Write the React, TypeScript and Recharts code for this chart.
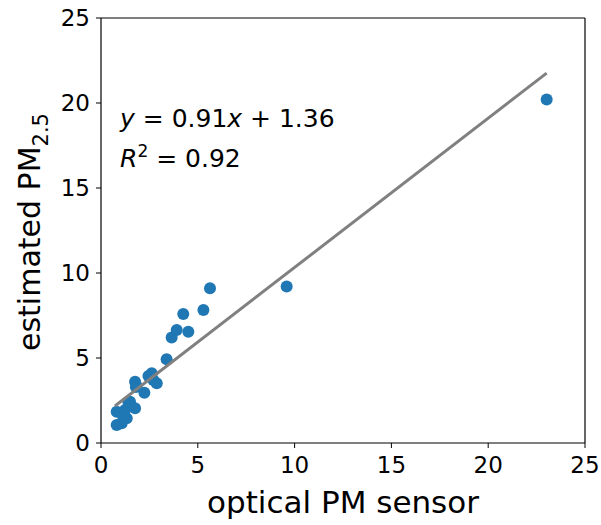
import { ReferenceLine, Scatter, ScatterChart, XAxis, YAxis } from 'recharts';

// optical PM sensor readings vs estimated PM2.5
const sensorValues = [
  0.81, 0.81, 1.07, 1.15, 1.24, 1.33, 1.41, 1.5, 1.76, 1.76, 1.84, 1.8, 2.24, 2.45, 2.62, 2.7, 2.88,
  3.39, 3.65, 3.91, 4.25, 4.51, 5.29, 5.63, 9.59, 23.02,
];
const estimatedValues = [
  1.06, 1.84, 1.16, 1.55, 1.94, 1.45, 2.43, 2.43, 2.04, 3.61, 3.35, 3.3, 2.96, 3.94, 4.1, 3.7, 3.51,
  4.92, 6.2, 6.65, 7.59, 6.55, 7.82, 9.1, 9.2, 20.2,
];
// end points of the fitted line as drawn
const fitX = [0.72, 23.02];
const fitY = [2.18, 21.76];
const ticks = [0, 5, 10, 15, 20, 25];

const points = sensorValues.map((x, i) => ({ x, y: estimatedValues[i] }));
const fitLine = fitX.map((x, i) => ({ x, y: fitY[i] }));

const FONT = '"DejaVu Sans", sans-serif';
const xTickStyle = { fontSize: 23, fill: '#000', fontFamily: FONT, dy: 7 };
const yTickStyle = { fontSize: 23, fill: '#000', fontFamily: FONT, dx: -4 };

export default function App() {
  return (
    <div style={{ position: 'absolute', left: 0, top: 0, width: 601, height: 525, background: '#fff' }}>
      <ScatterChart width={601} height={525} margin={{ top: 18, right: 16, bottom: 42, left: 41 }}>
        <XAxis
          type="number"
          dataKey="x"
          domain={[0, 25]}
          ticks={ticks}
          tick={xTickStyle}
          tickSize={5}
          height={40}
          stroke="#000"
          axisLine={{ stroke: '#000', strokeWidth: 1.2 }}
          tickLine={{ stroke: '#000' }}
        />
        <YAxis
          type="number"
          dataKey="y"
          domain={[0, 25]}
          ticks={ticks}
          tick={yTickStyle}
          tickSize={5}
          width={60}
          stroke="#000"
          axisLine={{ stroke: '#000', strokeWidth: 1.2 }}
          tickLine={{ stroke: '#000' }}
        />
        <ReferenceLine y={25} stroke="#000" strokeWidth={1.2} />
        <ReferenceLine x={25} stroke="#000" strokeWidth={1.2} />
        <Scatter
          data={points}
          fill="#1f77b4"
          shape={(p: any) => <circle cx={p.cx} cy={p.cy} r={6} fill="#1f77b4" />}
          isAnimationActive={false}
        />
        <Scatter
          data={fitLine}
          line={{ stroke: '#808080', strokeWidth: 3 }}
          shape={() => null}
          isAnimationActive={false}
        />
        <text x={120} y={127} fontSize={25} fontFamily={FONT} fill="#000">
          <tspan fontStyle="italic">y</tspan>
          <tspan> = 0.91</tspan>
          <tspan fontStyle="italic">x</tspan>
          <tspan> + 1.36</tspan>
        </text>
        <text x={120} y={167} fontSize={25} fontFamily={FONT} fill="#000">
          <tspan fontStyle="italic">R</tspan>
          <tspan fontSize={17} dy={-10}>2</tspan>
          <tspan dy={10}> = 0.92</tspan>
        </text>
        <text x={343} y={513} fontSize={31} fontFamily={FONT} fill="#000" textAnchor="middle">
          optical PM sensor
        </text>
        <text x={40} y={232} fontSize={30} fontFamily={FONT} fill="#000" textAnchor="middle" transform="rotate(-90, 40, 232)">
          estimated PM
          <tspan fontSize={21} dy={8}>2.5</tspan>
        </text>
      </ScatterChart>
    </div>
  );
}
